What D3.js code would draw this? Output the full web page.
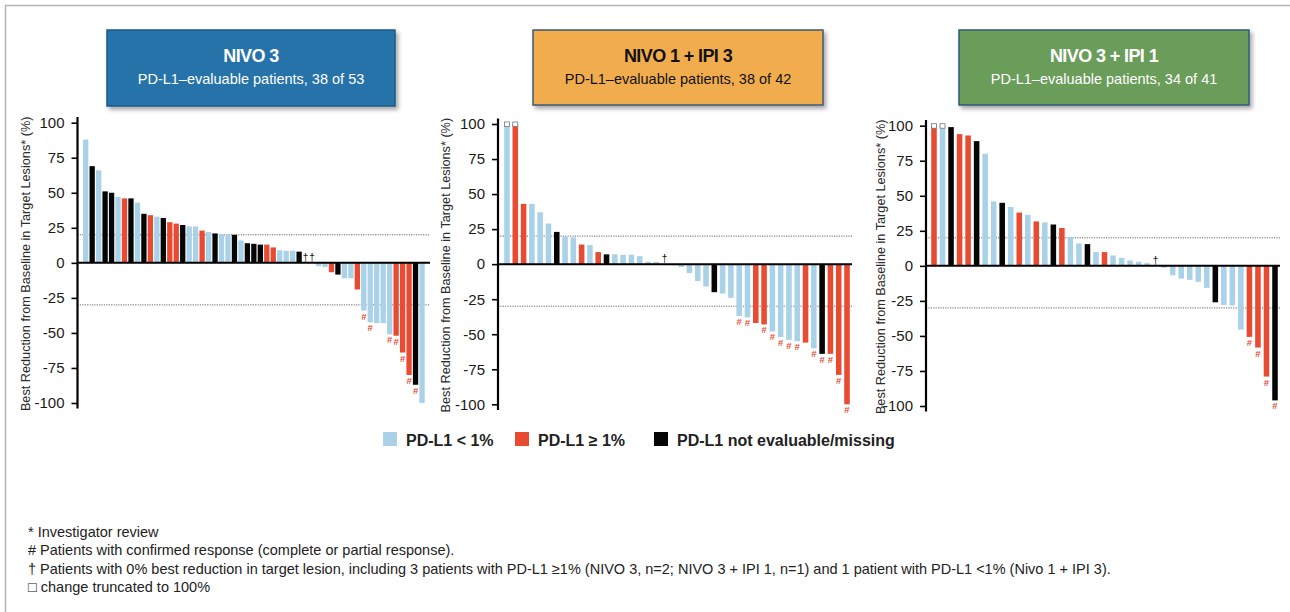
<!DOCTYPE html>
<html>
<head>
<meta charset="utf-8">
<script src="https://cdn.jsdelivr.net/npm/d3@7"></script>
<style>
  html, body { margin: 0; padding: 0; background: #fff; }
  svg { display: block; font-family: "Liberation Sans", Arial, sans-serif; }
</style>
</head>
<body>
<svg id="chart" width="1290" height="612"></svg>
<script>
// ---------------- DATA ----------------
// group codes: L = PD-L1 < 1%, H = PD-L1 >= 1%, N = not evaluable/missing
const nivo3Values = [88,69,66,51,50,47,46,46,43,35,34,33,32,29,28,27,26,26,23,22,21,20.5,20,20,16,14,13.6,13,13,11,9,8.6,8.6,8,0,0,-2.4,-3,-6.7,-8.4,-11,-11,-19,-34,-42.5,-43,-43,-51,-52,-64,-80,-87,-100];
const nivo3Groups = "LNLNNLHNLNHLNHHNLLHLNLLNLNNNHHLLLNHHLLHNLLHLLLLLHHHNL".split("");
const nivo3Response = [44,45,48,49,50,51,52];   // 1-based patient index with "#"
const nivo3Dagger = [35,36];
const nivo3Truncated = [];

const nivo1ipi3Values = [100,100,43,43,37,29,23,19.5,19,14,13.6,8.6,7,7,6.7,6.7,5.7,1.7,1.5,0,-0.8,-2,-6.4,-12,-16,-20,-21,-24,-37,-38,-42,-43,-48,-52,-54,-55,-56,-60,-64,-64,-79,-100];
const nivo1ipi3Groups = "LHHLLLNLLHLHNLLLLLLLLLLLLNLLLLHHLLLLHLNHHH".split("");
const nivo1ipi3Response = [29,30,32,33,34,35,36,38,39,40,41,42];
const nivo1ipi3Dagger = [20];
const nivo1ipi3Truncated = [1,2];

const nivo3ipi1Values = [100,100,99,94,93,89,80,46,45,42,38,36.4,31.7,31,29.5,27,20.7,16,15.5,9.8,9.8,7.4,5.7,3.8,2.9,1.9,0,-1.4,-6.7,-9,-10,-11.4,-15.7,-26,-28,-28.3,-45.5,-50.7,-58.3,-79,-96];
const nivo3ipi1Groups = "HLNHHNLLNLHLHLNHLLNLHLLLLLHLLLLLLNLLLHHHN".split("");
const nivo3ipi1Response = [38,39,40,41];
const nivo3ipi1Dagger = [27];
const nivo3ipi1Truncated = [1,2];

const panelTitles = ["NIVO 3", "NIVO 1 + IPI 3", "NIVO 3 + IPI 1"];
const panelSubtitles = ["PD-L1\u2013evaluable patients, 38 of 53", "PD-L1\u2013evaluable patients, 38 of 42", "PD-L1\u2013evaluable patients, 34 of 41"];
const yTicks = [100, 75, 50, 25, 0, -25, -50, -75, -100];
const thresholds = [20, -30];
const legendLabels = ["PD-L1 < 1%", "PD-L1 \u2265 1%", "PD-L1 not evaluable/missing"];
const legendGroups = ["L", "H", "N"];
const yLabel = "Best Reduction from Baseline in Target Lesions* (%)";
const footnotes = [
  "* Investigator review",
  "# Patients with confirmed response (complete or partial response).",
  "\u2020 Patients with 0% best reduction in target lesion, including 3 patients with PD-L1 \u22651% (NIVO 3, n=2; NIVO 3 + IPI 1, n=1) and 1 patient with PD-L1 <1% (Nivo 1 + IPI 3).",
  "\u25A1 change truncated to 100%"
];

// ---------------- STYLE / LAYOUT ----------------
const colors = { L: "#a9d1e7", H: "#e94a32", N: "#050505" };
const panelLayout = [
  { axisX: 77.5, top: 122.7, bottom: 403, c1: 85.7, cN: 422, end: 430, pad: 0.18, labelX: 27,
    box: { x: 107, y: 30, w: 288, h: 76, fill: "#2773aa", stroke: "#1d5a88", text: "#ffffff" } },
  { axisX: 498, top: 124, bottom: 404.3, c1: 507, cN: 847, end: 852, pad: 0.33, labelX: 447,
    box: { x: 533, y: 30, w: 290, h: 75, fill: "#f1ad4e", stroke: "#3f5a76", text: "#111111" } },
  { axisX: 926, top: 125.7, bottom: 406, c1: 934, cN: 1275, end: 1280, pad: 0.35, labelX: 882,
    box: { x: 959, y: 30, w: 290, h: 75, fill: "#6b9c5a", stroke: "#2f5a7c", text: "#ffffff" } }
];
const panelData = [
  { values: nivo3Values, groups: nivo3Groups, resp: nivo3Response, dag: nivo3Dagger, trunc: nivo3Truncated },
  { values: nivo1ipi3Values, groups: nivo1ipi3Groups, resp: nivo1ipi3Response, dag: nivo1ipi3Dagger, trunc: nivo1ipi3Truncated },
  { values: nivo3ipi1Values, groups: nivo3ipi1Groups, resp: nivo3ipi1Response, dag: nivo3ipi1Dagger, trunc: nivo3ipi1Truncated }
];

const svg = d3.select("#chart");
const defs = svg.append("defs");
const f = defs.append("filter").attr("id", "shadow").attr("x", "-10%").attr("y", "-10%").attr("width", "125%").attr("height", "140%");
f.append("feDropShadow").attr("dx", 2.5).attr("dy", 3).attr("stdDeviation", 2).attr("flood-color", "#000").attr("flood-opacity", 0.35);

// frame
svg.append("path").attr("d", "M5.5,612 L5.5,5.5 L1290,5.5").attr("fill", "none").attr("stroke", "#b5b5b5").attr("stroke-width", 1.5);

panelLayout.forEach((L, pi) => {
  const D = panelData[pi];
  const n = D.values.length;
  const step = (L.cN - L.c1) / (n - 1);
  const idx = d3.range(1, n + 1);
  const x = d3.scaleBand().domain(idx).range([L.c1 - step / 2, L.cN + step / 2]).paddingInner(L.pad).paddingOuter(L.pad / 2);
  const y = d3.scaleLinear().domain([-100, 100]).range([L.bottom, L.top]);
  const g = svg.append("g");

  // title box
  const b = L.box;
  g.append("rect").attr("x", b.x).attr("y", b.y).attr("width", b.w).attr("height", b.h)
    .attr("fill", b.fill).attr("stroke", b.stroke).attr("stroke-width", 1.5).attr("filter", "url(#shadow)");
  g.append("text").attr("x", b.x + b.w / 2).attr("y", b.y + 32).attr("text-anchor", "middle")
    .attr("font-size", 18).attr("font-weight", "bold").attr("letter-spacing", -0.6).attr("fill", b.text).text(panelTitles[pi]);
  g.append("text").attr("x", b.x + b.w / 2).attr("y", b.y + 53.5).attr("text-anchor", "middle")
    .attr("font-size", 14.5).attr("fill", b.text).text(panelSubtitles[pi]);

  // threshold dotted lines
  g.selectAll(".thr").data(thresholds).join("line")
    .attr("x1", L.axisX).attr("x2", L.end).attr("y1", d => y(d)).attr("y2", d => y(d))
    .attr("stroke", "#666").attr("stroke-width", 1).attr("stroke-dasharray", "1.2,1.2");

  // bars
  const rows = D.values.map((v, i) => ({ i: i + 1, v, g: D.groups[i] }));
  g.selectAll(".bar").data(rows).join("rect")
    .attr("x", d => x(d.i)).attr("width", x.bandwidth())
    .attr("y", d => y(Math.max(0, d.v))).attr("height", d => Math.abs(y(d.v) - y(0)))
    .attr("fill", d => colors[d.g]);

  // zero line
  g.append("line").attr("x1", L.axisX).attr("x2", L.end).attr("y1", y(0)).attr("y2", y(0))
    .attr("stroke", "#000").attr("stroke-width", 2);

  // truncated markers
  g.selectAll(".trunc").data(rows.filter(d => D.trunc.includes(d.i))).join("rect")
    .attr("x", d => x(d.i) + x.bandwidth() / 2 - 2.5).attr("y", d => y(d.v) - 2).attr("width", 5).attr("height", 4.5)
    .attr("fill", "#fff").attr("stroke", "#777").attr("stroke-width", 0.8);

  // daggers
  g.selectAll(".dag").data(rows.filter(d => D.dag.includes(d.i))).join("text")
    .attr("x", d => x(d.i) + x.bandwidth() / 2).attr("y", y(0) - 2).attr("text-anchor", "middle")
    .attr("font-size", 10).attr("fill", "#111").text("\u2020");

  // response markers
  g.selectAll(".resp").data(rows.filter(d => D.resp.includes(d.i))).join("text")
    .attr("x", d => x(d.i) + x.bandwidth() / 2).attr("y", d => y(d.v) + 9).attr("text-anchor", "middle")
    .attr("font-size", 9.5).attr("font-weight", "bold").attr("fill", "#e94a32").text("#");

  // y axis
  const ax = g.append("g").attr("transform", `translate(${L.axisX},0)`)
    .call(d3.axisLeft(y).tickValues(yTicks).tickFormat(d => String(d)).tickSize(6).tickPadding(7).tickSizeOuter(0));
  ax.select(".domain").remove();
  ax.selectAll(".tick line").attr("stroke", "#000").attr("stroke-width", 1.6);
  ax.selectAll(".tick text").attr("font-size", 15).attr("fill", "#1a1a1a").attr("font-family", "Liberation Sans, Arial, sans-serif");
  g.append("line").attr("x1", L.axisX).attr("x2", L.axisX).attr("y1", y(104)).attr("y2", y(-104))
    .attr("stroke", "#000").attr("stroke-width", 2.2);

  // y label
  g.append("text").attr("transform", `translate(${L.labelX},${(L.top + L.bottom) / 2 + 1}) rotate(-90)`)
    .attr("text-anchor", "middle").attr("dominant-baseline", "middle")
    .attr("font-size", 12.7).attr("fill", "#2a2a2a").text(yLabel);
});

// legend
const legendX = [383, 515, 654];
const lg = svg.append("g");
legendGroups.forEach((k, i) => {
  lg.append("rect").attr("x", legendX[i]).attr("y", 432).attr("width", 14).attr("height", 14).attr("fill", colors[k]);
  lg.append("text").attr("x", legendX[i] + 23).attr("y", 445.5).attr("font-size", 16).attr("font-weight", "bold")
    .attr("fill", "#222").text(legendLabels[i]);
});

// footnotes
svg.append("g").selectAll("text").data(footnotes).join("text")
  .attr("x", 28).attr("y", (d, i) => 537 + i * 18.3)
  .attr("font-size", 14.5).attr("fill", "#222").text(d => d);
</script>
</body>
</html>
